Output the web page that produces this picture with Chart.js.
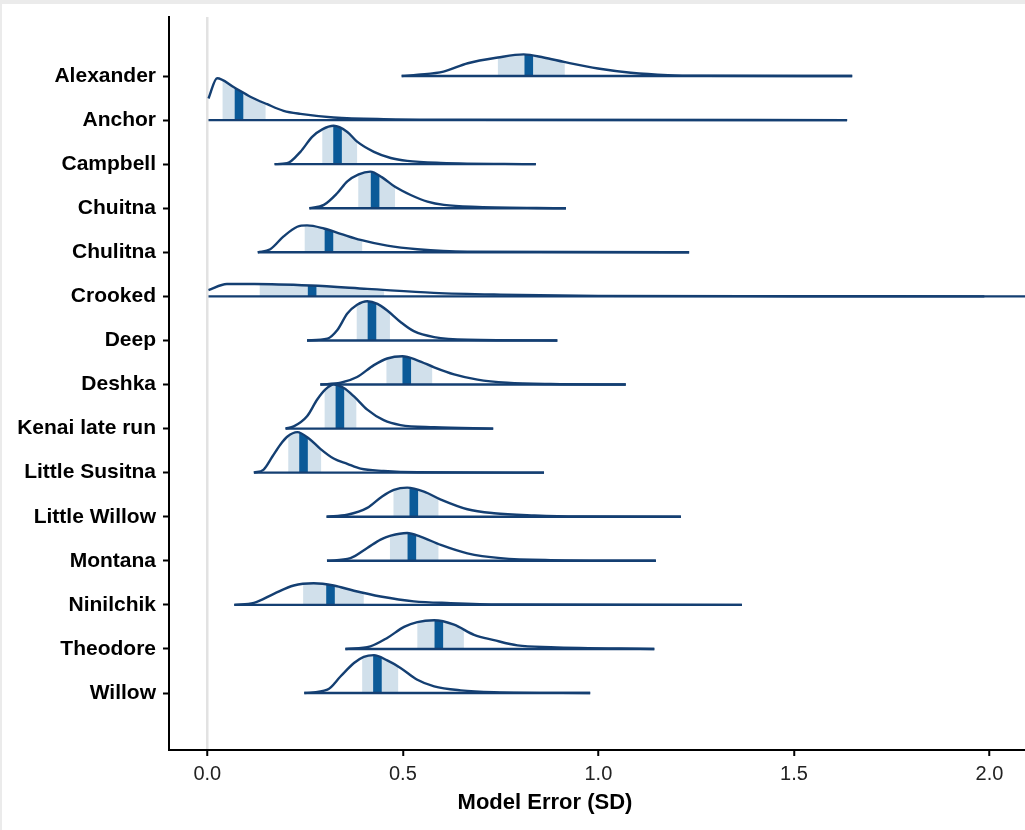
<!DOCTYPE html>
<html>
<head>
<meta charset="utf-8">
<title>Model Error (SD)</title>
<script src="https://cdn.jsdelivr.net/npm/chart.js@4.4.1/dist/chart.umd.min.js"></script>
<style>
  html, body { margin: 0; padding: 0; width: 1025px; height: 830px; overflow: hidden; background: #ebebeb; }
  #ridges { position: absolute; left: 2px; top: 4px; background: #ffffff; }
</style>
</head>
<body>
<canvas id="ridges" width="1086" height="826"></canvas>
<script>
// Rivers, listed top to bottom
const rivers = ['Alexander', 'Anchor', 'Campbell', 'Chuitna', 'Chulitna', 'Crooked', 'Deep', 'Deshka',
  'Kenai late run', 'Little Susitna', 'Little Willow', 'Montana', 'Ninilchik', 'Theodore', 'Willow'];

// Posterior density of model error per river: [error (SD), scaled density]
const alexanderCurve = [[0.497,0],[0.539,0.03],[0.604,0.10],[0.666,0.29],[0.743,0.42],[0.809,0.49],[0.86,0.42],[0.912,0.32],[0.999,0.17],[1.083,0.075],[1.178,0.02],[1.262,0.006],[1.649,0]];
const anchorCurve = [[0.003,0.49],[0.025,0.95],[0.067,0.75],[0.110,0.53],[0.153,0.36],[0.195,0.21],[0.238,0.14],[0.323,0.06],[0.451,0.02],[0.640,0.007],[1.636,0]];
const campbellCurve = [[0.172,0],[0.204,0.02],[0.238,0.28],[0.268,0.62],[0.294,0.79],[0.323,0.87],[0.358,0.73],[0.383,0.51],[0.426,0.28],[0.469,0.14],[0.511,0.075],[0.597,0.03],[0.840,0]];
const chuitnaCurve = [[0.261,0],[0.298,0.075],[0.332,0.34],[0.358,0.61],[0.387,0.77],[0.417,0.83],[0.447,0.70],[0.481,0.48],[0.520,0.30],[0.563,0.15],[0.605,0.075],[0.691,0.03],[0.917,0]];
const chulitnaCurve = [[0.129,0],[0.161,0.07],[0.195,0.36],[0.230,0.58],[0.255,0.61],[0.298,0.54],[0.341,0.42],[0.392,0.28],[0.460,0.15],[0.537,0.07],[0.665,0.015],[1.232,0]];
const crookedCurve = [[0.003,0.14],[0.05,0.28],[0.12,0.28],[0.264,0.245],[0.409,0.17],[0.579,0.08],[0.75,0.04],[1.0,0.012],[1.5,0.004],[1.987,0]];
const deepCurve = [[0.255,0],[0.307,0.04],[0.332,0.23],[0.358,0.61],[0.383,0.81],[0.409,0.89],[0.435,0.83],[0.460,0.68],[0.494,0.42],[0.528,0.21],[0.580,0.075],[0.665,0.015],[0.895,0]];
const deshkaCurve = [[0.289,0],[0.341,0.04],[0.383,0.17],[0.426,0.44],[0.460,0.59],[0.499,0.64],[0.537,0.55],[0.580,0.39],[0.631,0.23],[0.691,0.11],[0.767,0.04],[0.878,0.01],[1.070,0]];
const kenaiLateCurve = [[0.200,0],[0.221,0.05],[0.255,0.28],[0.281,0.66],[0.302,0.89],[0.323,1.0],[0.349,0.92],[0.375,0.73],[0.409,0.43],[0.451,0.19],[0.494,0.08],[0.580,0.03],[0.731,0]];
const littleSusitnaCurve = [[0.119,0],[0.144,0.07],[0.166,0.36],[0.187,0.64],[0.205,0.82],[0.230,0.92],[0.262,0.76],[0.289,0.54],[0.323,0.32],[0.358,0.20],[0.392,0.09],[0.451,0.04],[0.537,0.01],[0.861,0]];
const littleWillowCurve = [[0.305,0],[0.358,0.045],[0.409,0.20],[0.447,0.46],[0.477,0.61],[0.511,0.66],[0.554,0.57],[0.597,0.39],[0.665,0.17],[0.733,0.08],[0.836,0.03],[0.95,0.005],[1.211,0]];
const montanaCurve = [[0.306,0],[0.366,0.06],[0.409,0.29],[0.443,0.48],[0.469,0.57],[0.511,0.63],[0.545,0.55],[0.597,0.36],[0.665,0.17],[0.750,0.06],[0.878,0.015],[1.147,0]];
const ninilchikCurve = [[0.069,0],[0.119,0.045],[0.170,0.25],[0.221,0.44],[0.272,0.49],[0.323,0.44],[0.375,0.32],[0.443,0.19],[0.528,0.08],[0.622,0.04],[0.750,0.01],[1.367,0]];
const theodoreCurve = [[0.353,0],[0.417,0.06],[0.460,0.25],[0.503,0.50],[0.537,0.61],[0.580,0.65],[0.631,0.55],[0.682,0.32],[0.733,0.20],[0.793,0.08],[0.878,0.04],[1.143,0]];
const willowCurve = [[0.248,0],[0.307,0.075],[0.341,0.38],[0.375,0.68],[0.400,0.82],[0.426,0.86],[0.460,0.74],[0.494,0.57],[0.537,0.30],[0.580,0.15],[0.648,0.06],[0.733,0.02],[0.979,0]];

// Central interval and median of each posterior
const intervalLow  = [0.743, 0.039, 0.294, 0.386, 0.249, 0.134, 0.382, 0.458, 0.300, 0.207, 0.476, 0.467, 0.245, 0.537, 0.396];
const intervalHigh = [0.914, 0.149, 0.383, 0.480, 0.396, 0.452, 0.467, 0.575, 0.381, 0.291, 0.591, 0.591, 0.400, 0.656, 0.488];
const medians      = [0.822, 0.081, 0.333, 0.429, 0.311, 0.268, 0.421, 0.510, 0.339, 0.246, 0.528, 0.523, 0.315, 0.592, 0.435];
// Largest sampled error per river (Crooked runs past the axis)
const sampleMax    = [1.649, 1.636, 0.840, 0.917, 1.232, 2.300, 0.895, 1.070, 0.731, 0.861, 1.211, 1.147, 1.367, 1.143, 0.979];

const xTicks = [0, 0.5, 1.0, 1.5, 2.0];

const curves = [alexanderCurve, anchorCurve, campbellCurve, chuitnaCurve, chulitnaCurve, crookedCurve,
  deepCurve, deshkaCurve, kenaiLateCurve, littleSusitnaCurve, littleWillowCurve, montanaCurve,
  ninilchikCurve, theodoreCurve, willowCurve];

const FONT = "'Liberation Sans', Arial, Helvetica, sans-serif";
const OUTLINE = '#143f72';
const SHADE = '#d1e0eb';
const MEDIAN = '#0b5a98';

// Rows: Alexander at the top (row 15), Willow at the bottom (row 1)
const rowOf = i => rivers.length - i;

const datasets = [];
for (let i = rivers.length - 1; i >= 0; i--) {
  const row = rowOf(i);
  const curve = curves[i];
  datasets.push({
    label: rivers[i] + ' range',
    data: [{ x: curve[0][0], y: row }, { x: sampleMax[i], y: row }],
    showLine: true, pointRadius: 0, pointHoverRadius: 0,
    borderColor: OUTLINE, borderWidth: 2.4, fill: false
  });
  datasets.push({
    label: rivers[i],
    role: 'density', ridge: i, row: row,
    data: curve.map(p => ({ x: p[0], y: row + p[1] })),
    showLine: true, pointRadius: 0, pointHoverRadius: 0,
    borderColor: OUTLINE, borderWidth: 2.4, fill: false,
    cubicInterpolationMode: 'monotone'
  });
}

// Shades the central interval and the median band under each density outline
const ridgeShading = {
  id: 'ridgeShading',
  beforeDatasetDraw(chart, args) {
    const ds = chart.data.datasets[args.index];
    if (ds.role !== 'density') return;
    const meta = args.meta;
    const line = meta.dataset;
    const pts = meta.data;
    if (!line || !pts.length) return;
    const xs = chart.scales.x, ys = chart.scales.y;
    const area = chart.chartArea;
    const base = ys.getPixelForValue(ds.row);
    const ctx = chart.ctx;
    const band = (x0, x1, color) => {
      ctx.save();
      ctx.beginPath();
      ctx.rect(x0, area.top, x1 - x0, area.bottom - area.top);
      ctx.clip();
      ctx.beginPath();
      if (typeof line.path === 'function') {
        line.path(ctx);
      } else {
        ctx.moveTo(pts[0].x, pts[0].y);
        for (let k = 1; k < pts.length; k++) ctx.lineTo(pts[k].x, pts[k].y);
      }
      ctx.lineTo(pts[pts.length - 1].x, base);
      ctx.lineTo(pts[0].x, base);
      ctx.closePath();
      ctx.fillStyle = color;
      ctx.fill();
      ctx.restore();
    };
    const i = ds.ridge;
    band(xs.getPixelForValue(intervalLow[i]), xs.getPixelForValue(intervalHigh[i]), SHADE);
    const m = xs.getPixelForValue(medians[i]);
    band(m - 4.3, m + 4.3, MEDIAN);
  }
};

// Axes keep the plotting area fixed; no extra room for overhanging labels
const noOverhang = s => { s.paddingTop = 0; s.paddingBottom = 0; s.paddingLeft = 0; s.paddingRight = 0; };

new Chart(document.getElementById('ridges'), {
  type: 'scatter',
  data: { datasets },
  options: {
    responsive: false,
    animation: false,
    events: [],
    layout: { padding: { top: 13, left: 0, right: 0, bottom: 0 } },
    plugins: {
      legend: { display: false },
      tooltip: { enabled: false },
      title: {
        display: true, position: 'bottom', align: 'center',
        text: 'Model Error (SD)', color: '#000',
        font: { family: FONT, size: 22, weight: 'bold' },
        padding: { top: 4, bottom: 13.6 }
      }
    },
    scales: {
      x: {
        type: 'linear', min: -0.098, max: 2.252,
        afterBuildTicks: s => { s.ticks = xTicks.map(v => ({ value: v })); },
        afterFit: s => { s.height = 36; noOverhang(s); },
        ticks: {
          autoSkip: false, maxRotation: 0, padding: 6, color: '#222',
          font: { family: FONT, size: 20 },
          callback: v => Number(v).toFixed(1)
        },
        grid: {
          color: c => (c.tick && c.tick.value === 0) ? '#e2e2e2' : 'rgba(0,0,0,0)',
          lineWidth: 2.5, tickColor: '#000', tickLength: 6, tickWidth: 2
        },
        border: { display: true, color: '#000', width: 2 }
      },
      y: {
        type: 'linear', min: -0.293, max: 16.339,
        afterBuildTicks: s => { s.ticks = rivers.map((_, i) => ({ value: rowOf(i) })); },
        afterFit: s => { s.width = 167; noOverhang(s); },
        ticks: {
          autoSkip: false, padding: 7, color: '#000',
          font: { family: FONT, size: 21, weight: 'bold' },
          callback: v => rivers[rivers.length - v]
        },
        grid: { drawOnChartArea: false, tickColor: '#000', tickLength: 6, tickWidth: 2 },
        border: { display: true, color: '#000', width: 2 }
      }
    }
  },
  plugins: [ridgeShading]
});
</script>
</body>
</html>
